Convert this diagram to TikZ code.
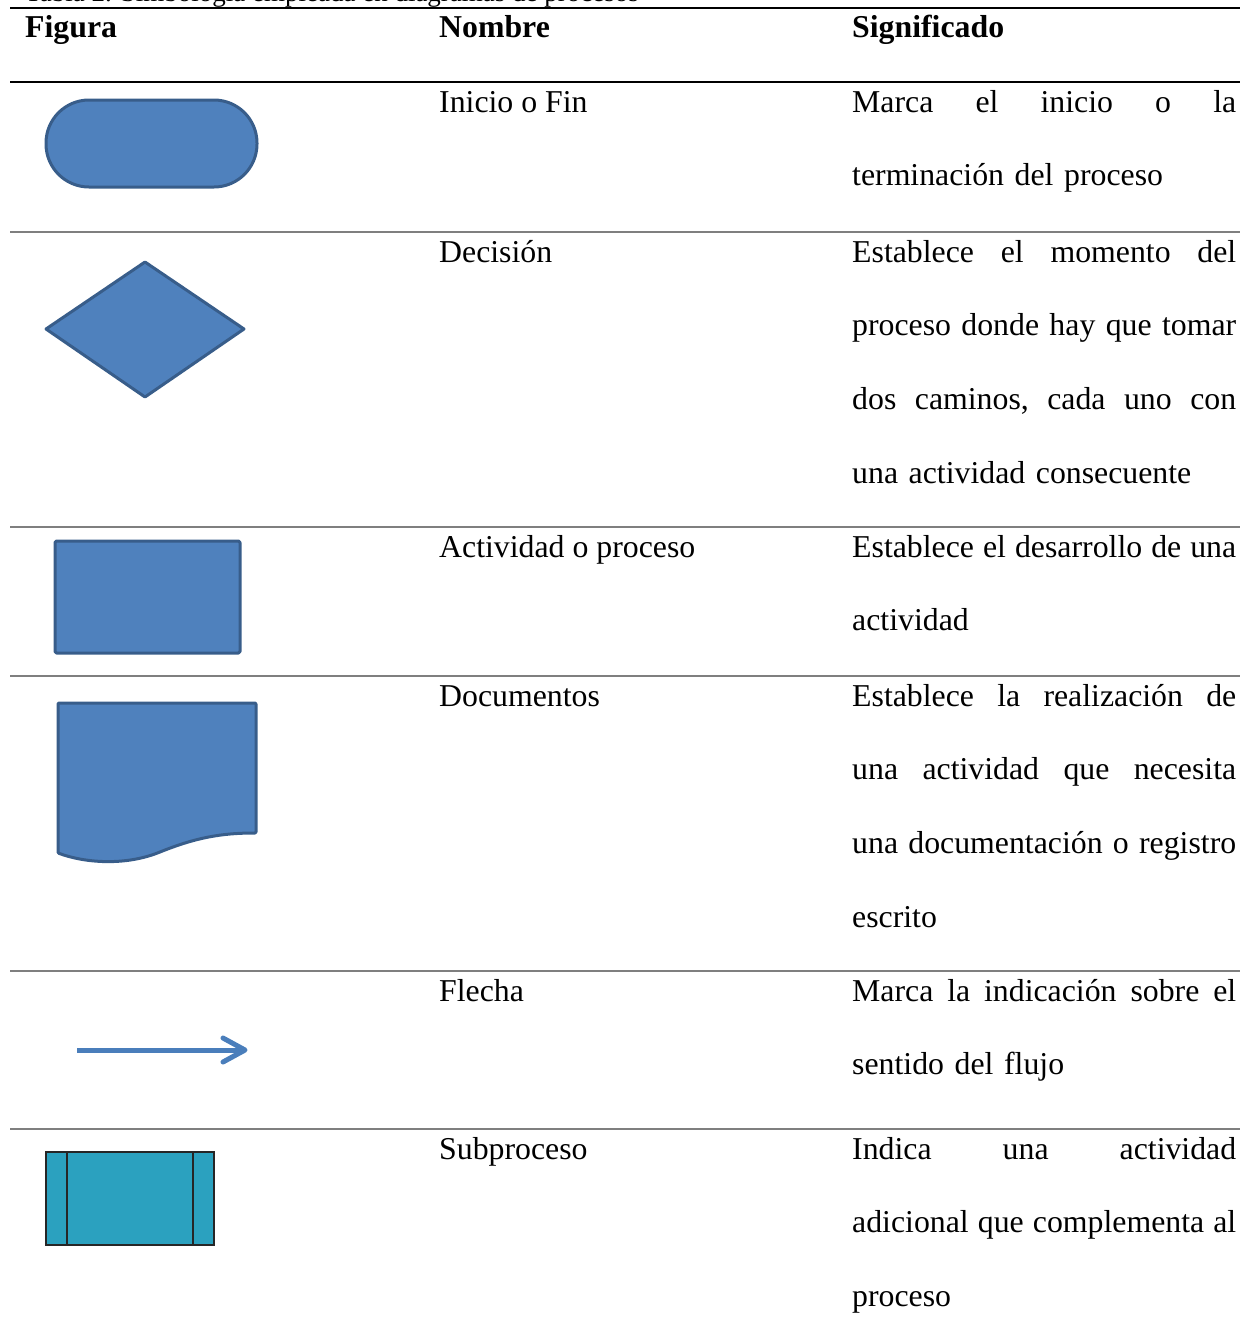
\documentclass[tikz,border=0pt]{standalone}
\usepackage{fontspec}
\setmainfont{Liberation Serif}
\newcommand\jl[1]{\leavevmode\hbox to 384pt{#1}}
\definecolor{shapefill}{HTML}{4F81BD}
\definecolor{shapeline}{HTML}{385D8A}
\definecolor{arrowblue}{HTML}{4A7EBB}
\definecolor{subfill}{HTML}{2BA1BF}
\definecolor{rulegray}{HTML}{7F7F7F}
\tikzset{
  body/.style={anchor=base west, inner sep=0pt, font=\fontsize{31.8}{73.7}\selectfont},
  head/.style={anchor=base west, inner sep=0pt, font=\fontsize{31.8}{38}\selectfont\bfseries},
  desc/.style={body, text width=384pt, align=left},
  thickrule/.style={line width=2.6pt, black},
  thinrule/.style={line width=2pt, rulegray},
  symb/.style={fill=shapefill, draw=shapeline, line width=3pt, line join=round},
}
\begin{document}
\begin{tikzpicture}[x=1pt,y=-1pt]
\useasboundingbox (0,0) rectangle (1240,1342);
% caption (cut off at the top, as in the reference)
\node[anchor=base west, inner sep=0pt, font=\fontsize{27}{32}\selectfont] (cap) at (25,1.5) {Tabla 2. Simbología empleada en diagramas de procesos};
% rules
\draw[thickrule] (10,8) -- (1240,8);
\draw[thickrule] (10,82) -- (1240,82);
\draw[thinrule] (10,232) -- (1240,232);
\draw[thinrule] (10,527) -- (1240,527);
\draw[thinrule] (10,676) -- (1240,676);
\draw[thinrule] (10,971) -- (1240,971);
\draw[thinrule] (10,1129) -- (1240,1129);
% header
\node[head] (h1) at (25,37) {Figura};
\node[head] (h2) at (439,37) {Nombre};
\node[head] (h3) at (852,37) {Significado};
% names
\node[body] (n1) at (439,112) {Inicio o Fin};
\node[body] (n2) at (439,262) {Decisión};
\node[body] (n3) at (439,557) {Actividad o proceso};
\node[body] (n4) at (439,706) {Documentos};
\node[body] (n5) at (439,1001) {Flecha};
\node[body] (n6) at (439,1159) {Subproceso};
% descriptions
\node[desc] (d1) at (852,112) {\jl{Marca\hfill el\hfill inicio\hfill o\hfill la}\\terminación del proceso};
\node[desc] (d2) at (852,262) {\jl{Establece\hfill el\hfill momento\hfill del}\\\jl{proceso\hfill donde\hfill hay\hfill que\hfill tomar}\\\jl{dos\hfill caminos,\hfill cada\hfill uno\hfill con}\\una actividad consecuente};
\node[desc] (d3) at (852,557) {\jl{Establece\hfill el\hfill desarrollo\hfill de\hfill una}\\actividad};
\node[desc] (d4) at (852,706) {\jl{Establece\hfill la\hfill realización\hfill de}\\\jl{una\hfill actividad\hfill que\hfill necesita}\\\jl{una\hfill documentación\hfill o\hfill registro}\\escrito};
\node[desc] (d5) at (852,1001) {\jl{Marca\hfill la\hfill indicación\hfill sobre\hfill el}\\sentido del flujo};
\node[desc] (d6) at (852,1159) {\jl{Indica\hfill una\hfill actividad}\\\jl{adicional\hfill que\hfill complementa\hfill al}\\proceso};
% symbols
% terminator
\draw[symb, rounded corners=43pt] (46,100) rectangle (257,187);
% decision
\draw[symb] (46,329) -- (145,262) -- (244,329) -- (145,397) -- cycle;
% process
\draw[symb, rounded corners=1.5pt] (55,541) rectangle (240,653);
% document
\draw[symb, rounded corners=1pt] (58,853) -- (58,703) -- (256,703) -- (256,833)
  .. controls (220,833) and (195,838) .. (160,852)
  .. controls (125,866) and (85,863) .. (58,853) -- cycle;
% arrow
\coordinate (a0) at (77,1050);
\coordinate (a1) at (245,1050);
\coordinate (a2) at (223,1038);
\coordinate (a3) at (223,1062);
\draw[arrowblue, line width=5pt] (a0) -- (a1);
\draw[arrowblue, line width=5pt, line cap=round, line join=round] (a2) -- (a1) -- (a3);
% subprocess
\draw[fill=subfill, draw=black!85, line width=1.6pt] (46,1152) rectangle (214,1245);
\draw[black!85, line width=1.6pt] (67,1152) -- (67,1245) (193,1152) -- (193,1245);
\end{tikzpicture}
\end{document}
